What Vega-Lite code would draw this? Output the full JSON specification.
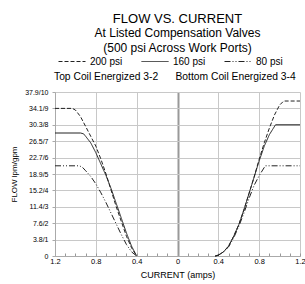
{
  "$schema": "https://vega.github.io/schema/vega-lite/v6.json",
  "autosize": {"type": "none"},
  "padding": {"left": 55, "top": 92, "right": 5, "bottom": 28},
  "width": 245,
  "height": 164,
  "background": "white",
  "config": {
    "font": "Liberation Sans",
    "view": {"stroke": null}
  },
  "title": {
    "text": "FLOW VS. CURRENT",
    "subtitle": ["At Listed Compensation Valves", "(500 psi Across Work Ports)"],
    "fontSize": 13,
    "fontWeight": "normal",
    "color": "#000",
    "subtitleFontSize": 12,
    "subtitleColor": "#000",
    "subtitleLineHeight": 15,
    "subtitlePadding": 2,
    "anchor": "middle",
    "offset": -6
  },
  "datasets": {
    "curves": [
      {"current": -1.2, "flow": 9.0, "psi": "200 psi", "side": "L"},
      {"current": -1.03, "flow": 9.0, "psi": "200 psi", "side": "L"},
      {"current": -1.0, "flow": 8.9, "psi": "200 psi", "side": "L"},
      {"current": -0.95, "flow": 8.5, "psi": "200 psi", "side": "L"},
      {"current": -0.9, "flow": 7.9, "psi": "200 psi", "side": "L"},
      {"current": -0.85, "flow": 7.3, "psi": "200 psi", "side": "L"},
      {"current": -0.8, "flow": 6.7, "psi": "200 psi", "side": "L"},
      {"current": -0.75, "flow": 5.9, "psi": "200 psi", "side": "L"},
      {"current": -0.7, "flow": 5.0, "psi": "200 psi", "side": "L"},
      {"current": -0.65, "flow": 4.0, "psi": "200 psi", "side": "L"},
      {"current": -0.6, "flow": 3.0, "psi": "200 psi", "side": "L"},
      {"current": -0.55, "flow": 2.1, "psi": "200 psi", "side": "L"},
      {"current": -0.5, "flow": 1.2, "psi": "200 psi", "side": "L"},
      {"current": -0.45, "flow": 0.5, "psi": "200 psi", "side": "L"},
      {"current": -0.4, "flow": 0.0, "psi": "200 psi", "side": "L"},

      {"current": -1.2, "flow": 7.5, "psi": "160 psi", "side": "L"},
      {"current": -0.95, "flow": 7.5, "psi": "160 psi", "side": "L"},
      {"current": -0.92, "flow": 7.45, "psi": "160 psi", "side": "L"},
      {"current": -0.9, "flow": 7.3, "psi": "160 psi", "side": "L"},
      {"current": -0.85, "flow": 6.9, "psi": "160 psi", "side": "L"},
      {"current": -0.8, "flow": 6.3, "psi": "160 psi", "side": "L"},
      {"current": -0.75, "flow": 5.6, "psi": "160 psi", "side": "L"},
      {"current": -0.7, "flow": 4.9, "psi": "160 psi", "side": "L"},
      {"current": -0.65, "flow": 4.1, "psi": "160 psi", "side": "L"},
      {"current": -0.6, "flow": 3.2, "psi": "160 psi", "side": "L"},
      {"current": -0.55, "flow": 2.3, "psi": "160 psi", "side": "L"},
      {"current": -0.5, "flow": 1.4, "psi": "160 psi", "side": "L"},
      {"current": -0.45, "flow": 0.6, "psi": "160 psi", "side": "L"},
      {"current": -0.4, "flow": 0.0, "psi": "160 psi", "side": "L"},

      {"current": -1.2, "flow": 5.5, "psi": "80 psi", "side": "L"},
      {"current": -0.96, "flow": 5.5, "psi": "80 psi", "side": "L"},
      {"current": -0.93, "flow": 5.4, "psi": "80 psi", "side": "L"},
      {"current": -0.9, "flow": 5.2, "psi": "80 psi", "side": "L"},
      {"current": -0.85, "flow": 4.85, "psi": "80 psi", "side": "L"},
      {"current": -0.8, "flow": 4.4, "psi": "80 psi", "side": "L"},
      {"current": -0.75, "flow": 3.85, "psi": "80 psi", "side": "L"},
      {"current": -0.7, "flow": 3.25, "psi": "80 psi", "side": "L"},
      {"current": -0.65, "flow": 2.6, "psi": "80 psi", "side": "L"},
      {"current": -0.6, "flow": 1.95, "psi": "80 psi", "side": "L"},
      {"current": -0.55, "flow": 1.3, "psi": "80 psi", "side": "L"},
      {"current": -0.5, "flow": 0.7, "psi": "80 psi", "side": "L"},
      {"current": -0.45, "flow": 0.25, "psi": "80 psi", "side": "L"},
      {"current": -0.4, "flow": 0.0, "psi": "80 psi", "side": "L"},

      {"current": 0.37, "flow": 0.0, "psi": "200 psi", "side": "R"},
      {"current": 0.4, "flow": 0.05, "psi": "200 psi", "side": "R"},
      {"current": 0.45, "flow": 0.25, "psi": "200 psi", "side": "R"},
      {"current": 0.5, "flow": 0.6, "psi": "200 psi", "side": "R"},
      {"current": 0.55, "flow": 1.2, "psi": "200 psi", "side": "R"},
      {"current": 0.6, "flow": 1.9, "psi": "200 psi", "side": "R"},
      {"current": 0.65, "flow": 2.8, "psi": "200 psi", "side": "R"},
      {"current": 0.7, "flow": 3.8, "psi": "200 psi", "side": "R"},
      {"current": 0.75, "flow": 4.8, "psi": "200 psi", "side": "R"},
      {"current": 0.8, "flow": 5.9, "psi": "200 psi", "side": "R"},
      {"current": 0.85, "flow": 6.9, "psi": "200 psi", "side": "R"},
      {"current": 0.9, "flow": 7.8, "psi": "200 psi", "side": "R"},
      {"current": 0.95, "flow": 8.6, "psi": "200 psi", "side": "R"},
      {"current": 1.0, "flow": 9.2, "psi": "200 psi", "side": "R"},
      {"current": 1.04, "flow": 9.45, "psi": "200 psi", "side": "R"},
      {"current": 1.2, "flow": 9.45, "psi": "200 psi", "side": "R"},

      {"current": 0.37, "flow": 0.0, "psi": "160 psi", "side": "R"},
      {"current": 0.4, "flow": 0.05, "psi": "160 psi", "side": "R"},
      {"current": 0.45, "flow": 0.25, "psi": "160 psi", "side": "R"},
      {"current": 0.5, "flow": 0.6, "psi": "160 psi", "side": "R"},
      {"current": 0.55, "flow": 1.2, "psi": "160 psi", "side": "R"},
      {"current": 0.6, "flow": 1.9, "psi": "160 psi", "side": "R"},
      {"current": 0.65, "flow": 2.8, "psi": "160 psi", "side": "R"},
      {"current": 0.7, "flow": 3.8, "psi": "160 psi", "side": "R"},
      {"current": 0.75, "flow": 4.8, "psi": "160 psi", "side": "R"},
      {"current": 0.8, "flow": 5.8, "psi": "160 psi", "side": "R"},
      {"current": 0.85, "flow": 6.7, "psi": "160 psi", "side": "R"},
      {"current": 0.9, "flow": 7.4, "psi": "160 psi", "side": "R"},
      {"current": 0.96, "flow": 8.0, "psi": "160 psi", "side": "R"},
      {"current": 1.2, "flow": 8.0, "psi": "160 psi", "side": "R"},

      {"current": 0.37, "flow": 0.0, "psi": "80 psi", "side": "R"},
      {"current": 0.4, "flow": 0.05, "psi": "80 psi", "side": "R"},
      {"current": 0.45, "flow": 0.25, "psi": "80 psi", "side": "R"},
      {"current": 0.5, "flow": 0.55, "psi": "80 psi", "side": "R"},
      {"current": 0.55, "flow": 1.1, "psi": "80 psi", "side": "R"},
      {"current": 0.6, "flow": 1.8, "psi": "80 psi", "side": "R"},
      {"current": 0.65, "flow": 2.6, "psi": "80 psi", "side": "R"},
      {"current": 0.7, "flow": 3.5, "psi": "80 psi", "side": "R"},
      {"current": 0.75, "flow": 4.3, "psi": "80 psi", "side": "R"},
      {"current": 0.8, "flow": 4.9, "psi": "80 psi", "side": "R"},
      {"current": 0.86, "flow": 5.5, "psi": "80 psi", "side": "R"},
      {"current": 1.2, "flow": 5.5, "psi": "80 psi", "side": "R"}
    ],
    "labels": [
      {"current": -1.21, "flow": 10, "label": "Top Coil Energized 3-2"},
      {"current": -0.02, "flow": 10, "label": "Bottom Coil Energized 3-4"}
    ]
  },
  "encoding": {
    "x": {
      "field": "current",
      "type": "quantitative",
      "scale": {"domain": [-1.2, 1.2], "nice": false, "zero": false},
      "axis": {
        "title": "CURRENT (amps)",
        "titleFontSize": 9,
        "titleFontWeight": "normal",
        "titleColor": "#000",
        "titlePadding": 6,
        "values": [-1.2, -1.1, -1.0, -0.9, -0.8, -0.7, -0.6, -0.5, -0.4, -0.3, -0.2, -0.1, 0, 0.1, 0.2, 0.3, 0.4, 0.5, 0.6, 0.7, 0.8, 0.9, 1.0, 1.1, 1.2],
        "labelExpr": "datum.value == 0 ? '0' : (round(abs(datum.value) * 10) % 4 == 0 ? format(abs(datum.value), '.1f') : '')",
        "labelFontSize": 7.5,
        "labelColor": "#000",
        "labelPadding": 4,
        "labelFlush": false,
        "labelOverlap": false,
        "tickSize": -3,
        "tickColor": "#999",
        "domainColor": "#aaa",
        "grid": true,
        "gridColor": {"condition": {"test": "datum.value == 0", "value": "#999"}, "value": "#c8c8c8"},
        "gridWidth": {"condition": {"test": "datum.value == 0", "value": 2}, "value": 1},
        "gridOpacity": {"condition": {"test": "round(abs(datum.value) * 10) % 4 == 0", "value": 1}, "value": 0}
      }
    },
    "y": {
      "field": "flow",
      "type": "quantitative",
      "scale": {"domain": [0, 10], "nice": false},
      "axis": {
        "title": "FLOW lpm/gpm",
        "titleFontSize": 8,
        "titleFontWeight": "normal",
        "titleColor": "#000",
        "titlePadding": 6,
        "values": [0, 1, 2, 3, 4, 5, 6, 7, 8, 9, 10],
        "labelExpr": "['0','3.8/1','7.6/2','11.4/3','15.2/4','18.9/5','22.7/6','26.5/7','30.3/8','34.1/9','37.9/10'][datum.value]",
        "labelFontSize": 7,
        "labelColor": "#000",
        "labelPadding": 4,
        "labelOverlap": false,
        "labelFlush": false,
        "tickSize": 3,
        "tickColor": "#aaa",
        "domainColor": "#aaa",
        "grid": true,
        "gridColor": "#c8c8c8"
      }
    }
  },
  "layer": [
    {
      "data": {"name": "curves"},
      "mark": {"type": "line", "strokeWidth": 1, "color": "#222", "clip": false},
      "encoding": {
        "strokeDash": {
          "field": "psi",
          "type": "nominal",
          "scale": {
            "domain": ["200 psi", "160 psi", "80 psi"],
            "range": [[4, 2], [1, 0], [6, 2, 1, 2, 1, 2]]
          },
          "legend": {
            "title": null,
            "orient": "none",
            "direction": "horizontal",
            "legendX": 3,
            "legendY": -44.5,
            "symbolType": "stroke",
            "symbolSize": 729,
            "symbolStrokeWidth": 1,
            "symbolStrokeColor": "#222",
            "labelFontSize": 10,
            "labelColor": "#000",
            "labelOffset": 4,
            "columnPadding": 16
          }
        },
        "detail": {"field": "side", "type": "nominal"},
        "order": {"field": "current", "type": "quantitative"}
      }
    },
    {
      "data": {"name": "labels"},
      "mark": {"type": "text", "align": "left", "baseline": "alphabetic", "dy": -12, "fontSize": 10.3, "color": "#000"},
      "encoding": {
        "text": {"field": "label"}
      }
    }
  ]
}
